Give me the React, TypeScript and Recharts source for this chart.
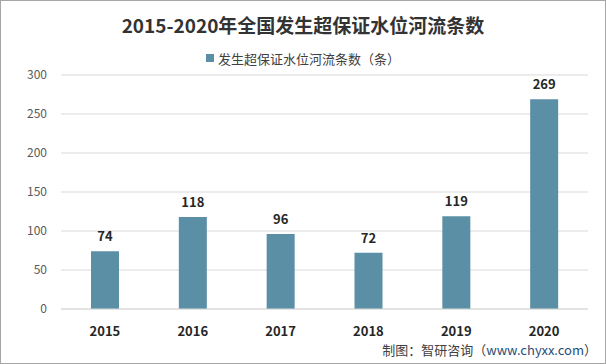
import { Bar, BarChart, CartesianGrid, LabelList, XAxis, YAxis } from 'recharts';

const years = ['2015', '2016', '2017', '2018', '2019', '2020'];
const rivers = [74, 118, 96, 72, 119, 269];
const yTicks = [0, 50, 100, 150, 200, 250, 300];
const seriesName = '发生超保证水位河流条数（条）';

const BAR = '#5b8fa6';
const FONT = '"Microsoft YaHei", "Noto Sans CJK SC", "DejaVu Sans", sans-serif';

const data = years.map((y, i) => ({ year: y, value: rivers[i] }));

export default function App() {
  return (
    <div
      style={{
        position: 'absolute',
        left: 0,
        top: 0,
        width: 606,
        height: 364,
        boxSizing: 'border-box',
        border: '1px solid #a6a6a6',
        background: '#fff',
        fontFamily: FONT,
      }}
    >
      <div
        style={{
          position: 'absolute',
          top: 10,
          left: 0,
          width: '100%',
          textAlign: 'center',
          fontSize: 19,
          fontWeight: 'bold',
          color: '#333',
        }}
      >
        2015-2020年全国发生超保证水位河流条数
      </div>
      {/* legend */}
      <div
        style={{
          position: 'absolute',
          top: 46,
          left: 0,
          width: '100%',
          textAlign: 'center',
          fontSize: 13,
          color: '#404040',
        }}
      >
        <span
          style={{
            display: 'inline-block',
            width: 8,
            height: 8,
            background: BAR,
            marginRight: 4,
            verticalAlign: 'middle',
          }}
        />
        <span style={{ verticalAlign: 'middle' }}>{seriesName}</span>
      </div>
      <BarChart
        width={604}
        height={362}
        data={data}
        margin={{ top: 74, right: 17, left: 0, bottom: 0 }}
        style={{ position: 'absolute', left: 0, top: 0 }}
      >
        <CartesianGrid stroke="#d9d9d9" vertical={false} />
        <XAxis
          dataKey="year"
          height={54}
          axisLine={{ stroke: '#d9d9d9' }}
          tickLine={false}
          tick={{ fontSize: 13, fontWeight: 'bold', fill: '#262626' }}
          dy={10}
        />
        <YAxis
          width={60}
          domain={[0, 300]}
          ticks={yTicks}
          axisLine={false}
          tickLine={false}
          tick={{ fontSize: 12, fill: '#595959' }}
          dx={-6}
        />
        <Bar
          dataKey="value"
          name={seriesName}
          fill={BAR}
          barSize={28}
          isAnimationActive={false}
        >
          <LabelList
            dataKey="value"
            position="top"
            offset={10}
            style={{ fontSize: 13, fontWeight: 'bold', fill: '#262626' }}
          />
        </Bar>
      </BarChart>
      <div
        style={{
          position: 'absolute',
          right: 8,
          bottom: 4,
          fontSize: 13,
          color: '#404040',
        }}
      >
        制图：智研咨询（<span style={{ color: '#1f4e79' }}>www.chyxx.com</span>）
      </div>
    </div>
  );
}
